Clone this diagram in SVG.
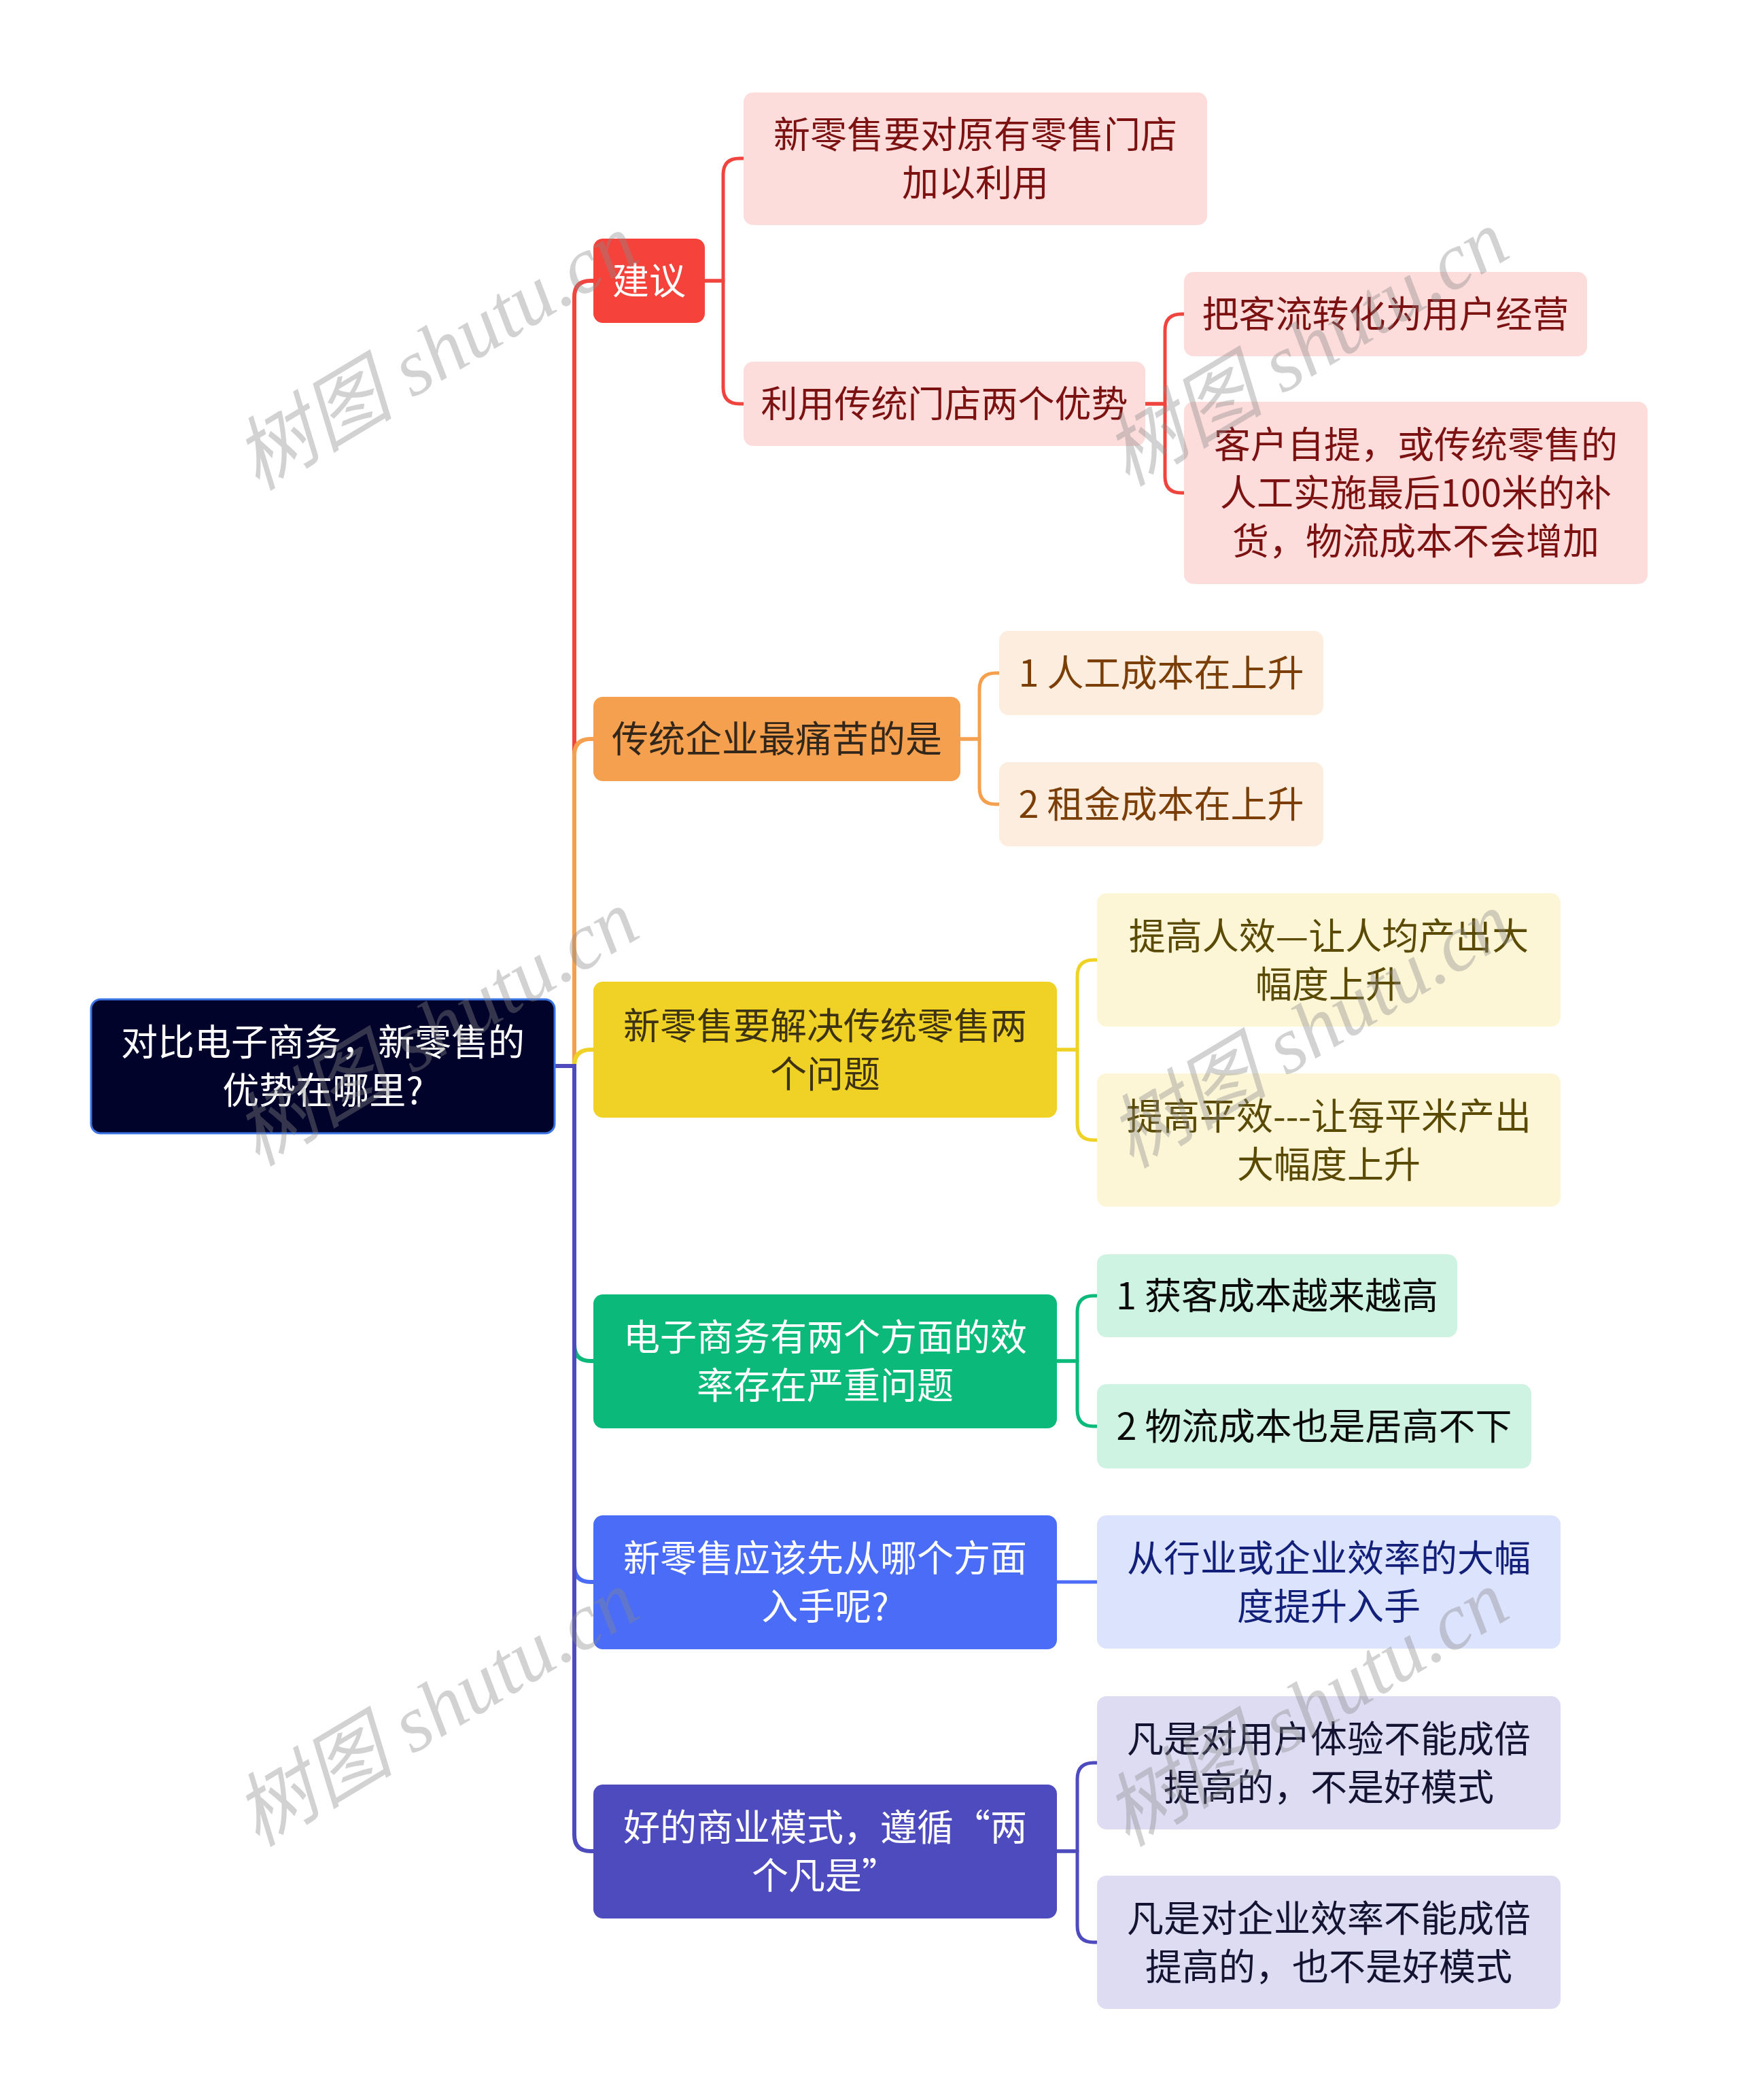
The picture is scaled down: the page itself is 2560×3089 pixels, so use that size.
<svg xmlns="http://www.w3.org/2000/svg" width="2560" height="3089" viewBox="0 0 2560 3089">
<style>
text{font-family:"Noto Sans CJK SC","Noto Sans",sans-serif;font-size:54px;text-anchor:middle}
.w{fill:#ffffff}
.c{fill:none;stroke-linejoin:round}
.b{stroke-width:6}
.l{stroke-width:5}
.wm{font-family:"Liberation Serif","Noto Sans CJK SC",serif;font-style:italic;font-size:118px;fill:#888888;fill-opacity:0.38}
</style>
<rect width="2560" height="3089" fill="#ffffff"/>
<g id="connectors">
<path class="c b" stroke="#f0453f" d="M845 1568 V437 Q845 413 869 413 H873"/>
<path class="c b" stroke="#f4a04e" d="M845 1568 V1111 Q845 1087 869 1087 H873"/>
<path class="c b" stroke="#f0d125" d="M845 1568 Q845 1544 869 1544 H873"/>
<path class="c b" stroke="#0bba7b" d="M845 1568 V1978 Q845 2002 869 2002 H873"/>
<path class="c b" stroke="#4a6cf7" d="M845 1568 V2303 Q845 2327 869 2327 H873"/>
<path class="c b" stroke="#4d4bbd" d="M845 1568 V2699 Q845 2723 869 2723 H873"/>
<path class="c b" stroke="#4d4bbd" d="M816 1568 H848"/>
<path class="c l" stroke="#f0453f" d="M1037 413 H1064 V257 Q1064 233 1088 233 H1094"/>
<path class="c l" stroke="#f0453f" d="M1037 413 H1064 V570 Q1064 594 1088 594 H1094"/>
<path class="c l" stroke="#f0453f" d="M1685 594 H1714 V486 Q1714 462 1738 462 H1742"/>
<path class="c l" stroke="#f0453f" d="M1685 594 H1714 V701 Q1714 725 1738 725 H1742"/>
<path class="c l" stroke="#f4a04e" d="M1413 1087 H1441 V1014 Q1441 990 1465 990 H1470"/>
<path class="c l" stroke="#f4a04e" d="M1413 1087 H1441 V1159 Q1441 1183 1465 1183 H1470"/>
<path class="c l" stroke="#f0d125" d="M1555 1544 H1585 V1436 Q1585 1412 1609 1412 H1614"/>
<path class="c l" stroke="#f0d125" d="M1555 1544 H1585 V1653 Q1585 1677 1609 1677 H1614"/>
<path class="c l" stroke="#0bba7b" d="M1555 2002 H1585 V1930 Q1585 1906 1609 1906 H1614"/>
<path class="c l" stroke="#0bba7b" d="M1555 2002 H1585 V2074 Q1585 2098 1609 2098 H1614"/>
<path class="c l" stroke="#4a6cf7" d="M1555 2327 H1614"/>
<path class="c l" stroke="#4d4bbd" d="M1555 2723 H1585 V2617 Q1585 2593 1609 2593 H1614"/>
<path class="c l" stroke="#4d4bbd" d="M1555 2723 H1585 V2833 Q1585 2857 1609 2857 H1614"/>
</g>
<g id="root">
<rect x="134" y="1470" width="682" height="197" rx="14" fill="#02032a" stroke="#3b74e4" stroke-width="3"/>
<text class="w" x="475" y="1553">对比电子商务，新零售的</text>
<text class="w" x="475" y="1624">优势在哪里?</text>
</g>
<g id="b1">
<rect x="873" y="351" width="164" height="124" rx="14" fill="#f5433c"/>
<text class="w" x="955" y="433">建议</text>
</g>
<g id="l1a">
<rect x="1094" y="136" width="682" height="195" rx="14" fill="#fddcdc"/>
<text fill="#7c1111" x="1435" y="218">新零售要对原有零售门店</text>
<text fill="#7c1111" x="1435" y="289">加以利用</text>
</g>
<g id="l1b">
<rect x="1094" y="532" width="591" height="124" rx="14" fill="#fddcdc"/>
<text fill="#7c1111" x="1389.5" y="614">利用传统门店两个优势</text>
</g>
<g id="l1b1">
<rect x="1742" y="400" width="593" height="124" rx="14" fill="#fddcdc"/>
<text fill="#7c1111" x="2038.5" y="482">把客流转化为用户经营</text>
</g>
<g id="l1b2">
<rect x="1742" y="591" width="682" height="268" rx="14" fill="#fddcdc"/>
<text fill="#7c1111" x="2083" y="674">客户自提，或传统零售的</text>
<text fill="#7c1111" x="2083" y="745">人工实施最后100米的补</text>
<text fill="#7c1111" x="2083" y="816">货，物流成本不会增加</text>
</g>
<g id="b2">
<rect x="873" y="1025" width="540" height="124" rx="14" fill="#f4a04e"/>
<text fill="#33261a" x="1143" y="1107">传统企业最痛苦的是</text>
</g>
<g id="l2a">
<rect x="1470" y="928" width="477" height="124" rx="14" fill="#fdeddf"/>
<text fill="#7a3e06" x="1708.5" y="1010">1 人工成本在上升</text>
</g>
<g id="l2b">
<rect x="1470" y="1121" width="477" height="124" rx="14" fill="#fdeddf"/>
<text fill="#7a3e06" x="1708.5" y="1203">2 租金成本在上升</text>
</g>
<g id="b3">
<rect x="873" y="1444" width="682" height="200" rx="14" fill="#f0d125"/>
<text fill="#3d3313" x="1214" y="1528.5">新零售要解决传统零售两</text>
<text fill="#3d3313" x="1214" y="1599.5">个问题</text>
</g>
<g id="l3a">
<rect x="1614" y="1314" width="682" height="196" rx="14" fill="#fcf6d7"/>
<text fill="#5b4a04" x="1955" y="1396.5">提高人效—让人均产出大</text>
<text fill="#5b4a04" x="1955" y="1467.5">幅度上升</text>
</g>
<g id="l3b">
<rect x="1614" y="1579" width="682" height="196" rx="14" fill="#fcf6d7"/>
<text fill="#5b4a04" x="1955" y="1661.5">提高平效---让每平米产出</text>
<text fill="#5b4a04" x="1955" y="1732.5">大幅度上升</text>
</g>
<g id="b4">
<rect x="873" y="1904" width="682" height="197" rx="14" fill="#0bba7b"/>
<text class="w" x="1214" y="1987">电子商务有两个方面的效</text>
<text class="w" x="1214" y="2058">率存在严重问题</text>
</g>
<g id="l4a">
<rect x="1614" y="1845" width="530" height="122" rx="14" fill="#cff3e3"/>
<text fill="#0b0b0b" x="1879" y="1926">1 获客成本越来越高</text>
</g>
<g id="l4b">
<rect x="1614" y="2036" width="639" height="124" rx="14" fill="#cff3e3"/>
<text fill="#0b0b0b" x="1933.5" y="2118">2 物流成本也是居高不下</text>
</g>
<g id="b5">
<rect x="873" y="2229" width="682" height="197" rx="14" fill="#4a6cf7"/>
<text class="w" x="1214" y="2312">新零售应该先从哪个方面</text>
<text class="w" x="1214" y="2383">入手呢?</text>
</g>
<g id="l5a">
<rect x="1614" y="2229" width="682" height="196" rx="14" fill="#dce3fc"/>
<text fill="#12207a" x="1955" y="2311.5">从行业或企业效率的大幅</text>
<text fill="#12207a" x="1955" y="2382.5">度提升入手</text>
</g>
<g id="b6">
<rect x="873" y="2625" width="682" height="197" rx="14" fill="#4d4bbd"/>
<text class="w" x="1214" y="2708">好的商业模式，遵循“两</text>
<text class="w" x="1214" y="2779">个凡是”</text>
</g>
<g id="l6a">
<rect x="1614" y="2495" width="682" height="196" rx="14" fill="#dedcf2"/>
<text fill="#141432" x="1955" y="2577.5">凡是对用户体验不能成倍</text>
<text fill="#141432" x="1955" y="2648.5">提高的，不是好模式</text>
</g>
<g id="l6b">
<rect x="1614" y="2759" width="682" height="196" rx="14" fill="#dedcf2"/>
<text fill="#141432" x="1955" y="2841.5">凡是对企业效率不能成倍</text>
<text fill="#141432" x="1955" y="2912.5">提高的，也不是好模式</text>
</g>
<g id="watermarks">
<text class="wm" transform="translate(642 518) rotate(-31)" y="40">树图 shutu.cn</text>
<text class="wm" transform="translate(1922 512) rotate(-31)" y="40">树图 shutu.cn</text>
<text class="wm" transform="translate(642 1512) rotate(-31)" y="40">树图 shutu.cn</text>
<text class="wm" transform="translate(1928 1515) rotate(-31)" y="40">树图 shutu.cn</text>
<text class="wm" transform="translate(642 2513) rotate(-31)" y="40">树图 shutu.cn</text>
<text class="wm" transform="translate(1922 2513) rotate(-31)" y="40">树图 shutu.cn</text>
</g>
</svg>
